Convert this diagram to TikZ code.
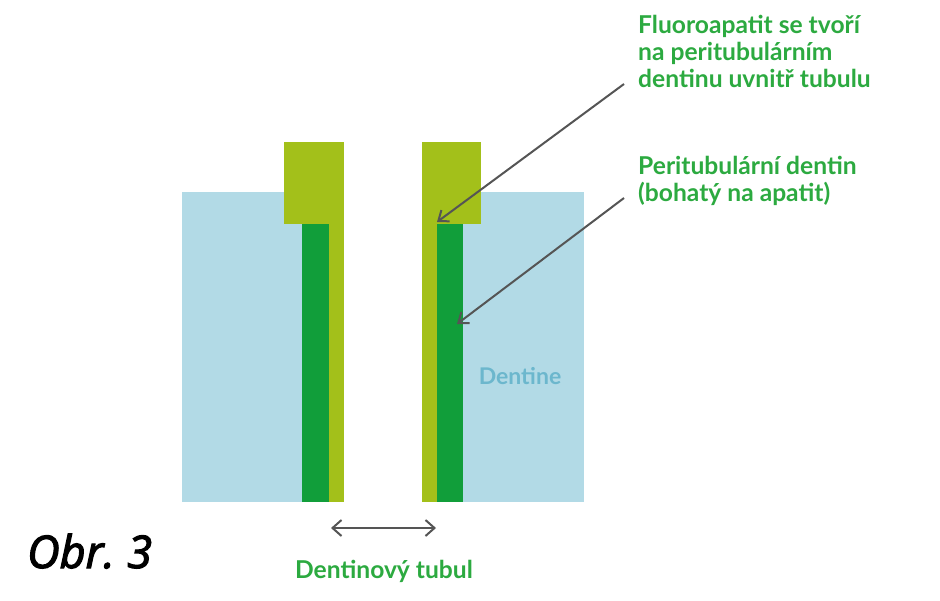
\documentclass[tikz,border=0pt]{standalone}
\usepackage{fontspec}
\setmainfont{Lato}
\newfontfamily\obrfont{Open Sans}[FakeBold=2.6]
\usetikzlibrary{arrows.meta}
\definecolor{dentblue}{RGB}{178,218,230}
\definecolor{dentbluetext}{RGB}{108,183,205}
\definecolor{limegreen}{RGB}{163,192,26}
\definecolor{darkgreen}{RGB}{17,158,58}
\definecolor{labgreen}{RGB}{44,170,64}
\definecolor{arrowgray}{RGB}{85,85,85}
\begin{document}
\begin{tikzpicture}[x=1pt,y=-1pt,
  lab/.style={text=labgreen, font=\bfseries\fontsize{24.6}{27}\selectfont, align=left, inner sep=0pt, anchor=north west},
  pointer/.style={draw=arrowgray, line width=2pt, -{Straight Barb[length=9pt,width=14pt]}},
  span/.style={draw=arrowgray, line width=2pt, {Straight Barb[length=9pt,width=16pt]}-{Straight Barb[length=9pt,width=16pt]}}]
\useasboundingbox (0,0) rectangle (940,600);
\fill[white] (0,0) rectangle (940,600);
% dentine
\fill[dentblue] (182,192) rectangle (302,502);
\fill[dentblue] (463,192) rectangle (584,502);
% left wall
\fill[limegreen] (284,142) rectangle (344,224);
\fill[limegreen] (329,224) rectangle (344,502);
\fill[darkgreen] (302,224) rectangle (329,502);
% right wall
\fill[limegreen] (422,142) rectangle (481,224);
\fill[limegreen] (422,224) rectangle (437,502);
\fill[darkgreen] (437,224) rectangle (463,502);
% labels
\node[lab] (fluoro) at (638,15) {Fluoroapatit se tvoří\\na peritubulárním\\dentinu uvnitř tubulu};
\node[lab] (peri) at (638,156) {Peritubulární dentin\\(bohatý na apatit)};
\node[text=dentbluetext, font=\bfseries\fontsize{23}{26}\selectfont, inner sep=0pt, anchor=base] (dentine) at (520,384) {Dentine};
\node[text=labgreen, font=\bfseries\fontsize{24.6}{27}\selectfont, inner sep=0pt, anchor=base] (tubul) at (384,578) {Dentinový tubul};
\node[font=\obrfont\itshape\fontsize{45}{52}\selectfont, inner sep=0pt, anchor=base west] (obr) at (27,568) {Obr.\hspace{-3pt} 3};
% connectors
\coordinate (fluorotip) at (437,222);
\coordinate (peritip) at (457,324);
\coordinate (fluorostart) at (624,84);
\coordinate (peristart) at (624,198);
\coordinate (tubL) at (331,528);
\coordinate (tubR) at (436,528);
\draw[pointer] (fluorostart) -- (fluorotip);
\draw[pointer] (peristart) -- (peritip);
\draw[span] (tubL) -- (tubR);
\end{tikzpicture}
\end{document}
